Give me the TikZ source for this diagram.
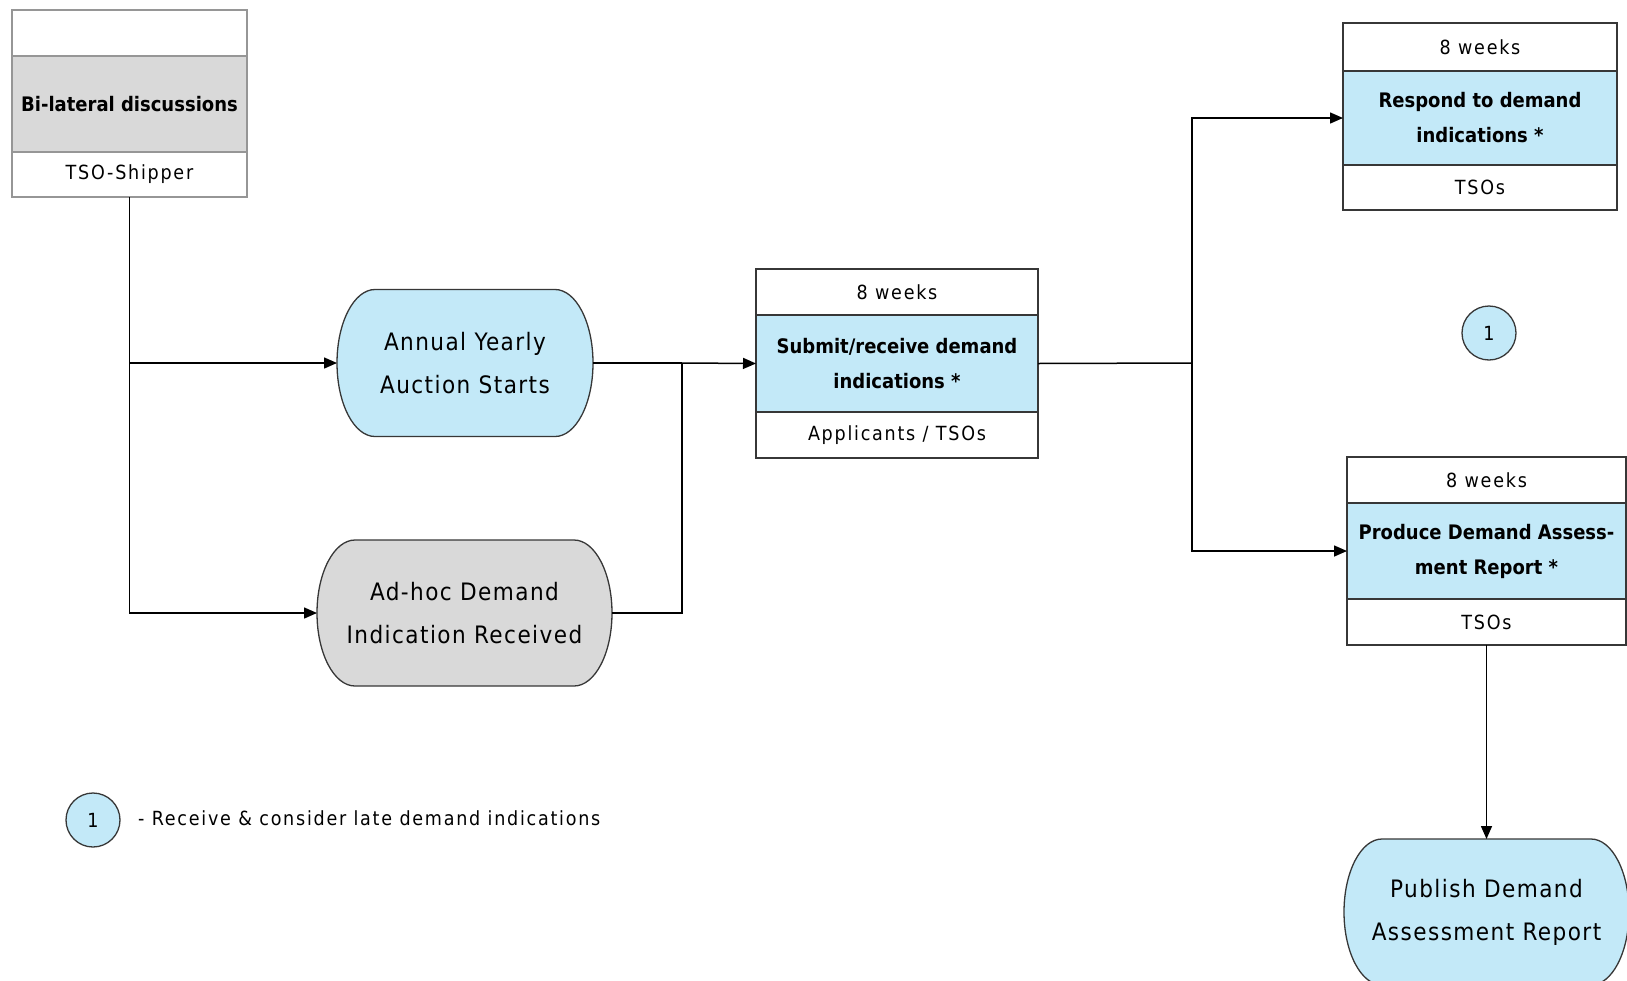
\documentclass[tikz,border=0pt]{standalone}
\usepackage{fontspec}
\setmainfont{DejaVu Sans Condensed}
\newfontfamily\myspaced[LetterSpace=9]{DejaVu Sans Condensed}
\newfontfamily\mybigsp[LetterSpace=6]{DejaVu Sans Condensed}
\usetikzlibrary{shapes.geometric,arrows.meta,calc,backgrounds}
\definecolor{lblue}{RGB}{195,233,248}
\definecolor{lgray}{RGB}{217,217,217}
\definecolor{bord}{RGB}{55,55,55}
\definecolor{gbord}{RGB}{150,150,150}
\newcommand\myfsm{\myspaced\fontsize{19.5}{22}\selectfont}
\newcommand\myfbd{\fontsize{20}{35}\selectfont\bfseries}
\newcommand\myflg{\mybigsp\fontsize{24}{43}\selectfont}
% stadium outline: node name, fill, vertical control offset
\newcommand\mystad[3]{%
\draw[fill=#2, draw=bord, line width=1.3pt]
 ($(#1.north west)+(38,0)$) -- ($(#1.north east)+(-38,0)$)
 .. controls ($(#1.north east)+(-17,0)$) and ($(#1.east)+(0,-#3)$) .. (#1.east)
 .. controls ($(#1.east)+(0,#3)$) and ($(#1.south east)+(-17,0)$) .. ($(#1.south east)+(-38,0)$)
 -- ($(#1.south west)+(38,0)$)
 .. controls ($(#1.south west)+(17,0)$) and ($(#1.west)+(0,#3)$) .. (#1.west)
 .. controls ($(#1.west)+(0,-#3)$) and ($(#1.north west)+(17,0)$) .. cycle;}
\begin{document}
\begin{tikzpicture}[x=1pt,y=-1pt,
  cellbox/.style={draw=bord, line width=1.3pt, anchor=north west, inner sep=0pt, outer sep=0pt, align=center, font=\myfsm},
  midbox/.style={cellbox, fill=lblue, font=\myfbd},
  stadium/.style={rectangle, draw=none, inner sep=0pt, outer sep=0pt, align=center, font=\myflg},
  numcirc/.style={circle, draw=bord, line width=1.3pt, fill=lblue, minimum size=54pt, inner sep=0pt, font=\myfsm},
  conn/.style={line width=1.5pt, black},
  arr/.style={conn, -{Triangle[length=13pt,width=11pt]}}
]
\useasboundingbox (0,0) rectangle (1627,980);

% Bi-lateral discussions
\node[cellbox, draw=gbord, minimum width=235pt, minimum height=46pt] (bilt) at (12,10) {};
\node[cellbox, draw=gbord, fill=lgray, font=\myfbd, minimum width=235pt, minimum height=96pt] (bil) at (12,56) {Bi-lateral discussions};
\node[cellbox, draw=gbord, minimum width=235pt, minimum height=45pt] (bilb) at (12,152) {TSO-Shipper};

% Stadium nodes
\node[stadium, minimum width=256pt, minimum height=147pt] (ann) at (465,363) {Annual Yearly\\Auction Starts};
\node[stadium, minimum width=295pt, minimum height=146pt] (adh) at (464.5,613) {Ad-hoc Demand\\Indication Received};
\node[stadium, minimum width=285pt, minimum height=146pt] (pub) at (1486.5,912) {Publish Demand\\Assessment Report};
\begin{scope}[on background layer]
\mystad{ann}{lblue}{40.6}
\mystad{adh}{lgray}{40.3}
\mystad{pub}{lblue}{40.3}
\end{scope}

% Submit box
\node[cellbox, minimum width=282pt, minimum height=46pt] (subt) at (756,269) {8 weeks};
\node[midbox, minimum width=282pt, minimum height=97pt] (sub) at (756,315) {Submit/receive demand\\indications *};
\node[cellbox, minimum width=282pt, minimum height=46pt] (subb) at (756,412) {Applicants / TSOs};

% Respond box
\node[cellbox, minimum width=274pt, minimum height=48pt] (rest) at (1343,23) {8 weeks};
\node[midbox, minimum width=274pt, minimum height=94pt] (res) at (1343,71) {Respond to demand\\indications *};
\node[cellbox, minimum width=274pt, minimum height=45pt] (resb) at (1343,165) {TSOs};

% Produce box
\node[cellbox, minimum width=279pt, minimum height=46pt] (prot) at (1347,457) {8 weeks};
\node[midbox, minimum width=279pt, minimum height=96pt] (pro) at (1347,503) {Produce Demand Assess-\\ment Report *};
\node[cellbox, minimum width=279pt, minimum height=46pt] (prob) at (1347,599) {TSOs};

% circles
\node[numcirc] (c1) at (1489,333) {1};
\node[numcirc] (c2) at (93,820) {1};
\node[anchor=west, font=\myfsm, inner sep=0pt] (leg) at (138,818) {- Receive \& consider late demand indications};

% connectors
\draw[arr] (bilb.south) |- (adh.west);
\draw[arr] (bilb.south |- ann.west) -- (ann.west);
\coordinate (jm) at (682,363);
\draw[conn] (ann.east) -- (jm);
\draw[conn] (adh.east) -| (jm);
\draw[arr] (jm) -- (sub.west);
\coordinate (jr) at (1192,363);
\draw[conn] (sub.east) -- (jr);
\draw[arr] (jr) |- (res.west);
\draw[arr] (jr) |- (pro.west);
\draw[arr] (prob.south) -- (pub.north);
\end{tikzpicture}
\end{document}
